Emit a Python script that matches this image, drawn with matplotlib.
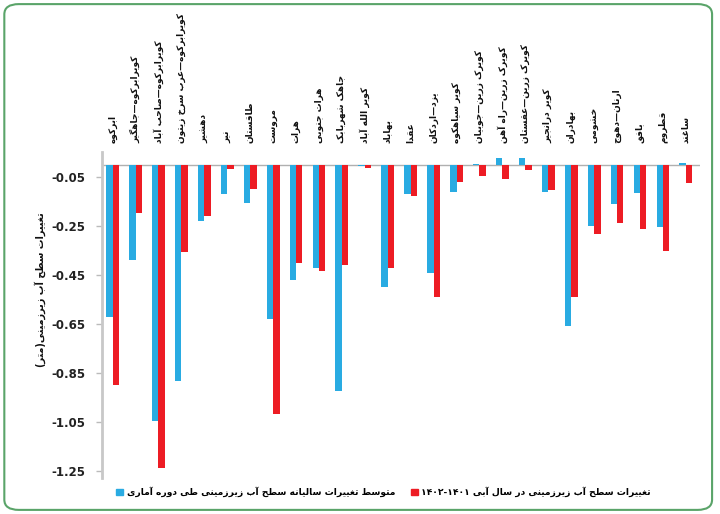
import matplotlib
matplotlib.use("Agg")
import matplotlib.pyplot as plt
from matplotlib.patches import Patch, FancyBboxPatch
from matplotlib.transforms import blended_transform_factory

# presentation forms: isolated, final, initial, medial
FORMS = {
    'ا': ('\uFE8D', '\uFE8E', None, None), 'آ': ('\uFE81', '\uFE82', None, None),
    'ب': ('\uFE8F', '\uFE90', '\uFE91', '\uFE92'), 'پ': ('\uFB56', '\uFB57', '\uFB58', '\uFB59'),
    'ت': ('\uFE95', '\uFE96', '\uFE97', '\uFE98'), 'ث': ('\uFE99', '\uFE9A', '\uFE9B', '\uFE9C'),
    'ج': ('\uFE9D', '\uFE9E', '\uFE9F', '\uFEA0'), 'چ': ('\uFB7A', '\uFB7B', '\uFB7C', '\uFB7D'),
    'ح': ('\uFEA1', '\uFEA2', '\uFEA3', '\uFEA4'), 'خ': ('\uFEA5', '\uFEA6', '\uFEA7', '\uFEA8'),
    'د': ('\uFEA9', '\uFEAA', None, None), 'ذ': ('\uFEAB', '\uFEAC', None, None),
    'ر': ('\uFEAD', '\uFEAE', None, None), 'ز': ('\uFEAF', '\uFEB0', None, None),
    'ژ': ('\uFB8A', '\uFB8B', None, None),
    'س': ('\uFEB1', '\uFEB2', '\uFEB3', '\uFEB4'), 'ش': ('\uFEB5', '\uFEB6', '\uFEB7', '\uFEB8'),
    'ص': ('\uFEB9', '\uFEBA', '\uFEBB', '\uFEBC'), 'ض': ('\uFEBD', '\uFEBE', '\uFEBF', '\uFEC0'),
    'ط': ('\uFEC1', '\uFEC2', '\uFEC3', '\uFEC4'), 'ظ': ('\uFEC5', '\uFEC6', '\uFEC7', '\uFEC8'),
    'ع': ('\uFEC9', '\uFECA', '\uFECB', '\uFECC'), 'غ': ('\uFECD', '\uFECE', '\uFECF', '\uFED0'),
    'ف': ('\uFED1', '\uFED2', '\uFED3', '\uFED4'), 'ق': ('\uFED5', '\uFED6', '\uFED7', '\uFED8'),
    'ک': ('\uFB8E', '\uFB8F', '\uFB90', '\uFB91'), 'گ': ('\uFB92', '\uFB93', '\uFB94', '\uFB95'),
    'ل': ('\uFEDD', '\uFEDE', '\uFEDF', '\uFEE0'), 'م': ('\uFEE1', '\uFEE2', '\uFEE3', '\uFEE4'),
    'ن': ('\uFEE5', '\uFEE6', '\uFEE7', '\uFEE8'), 'ه': ('\uFEE9', '\uFEEA', '\uFEEB', '\uFEEC'),
    'و': ('\uFEED', '\uFEEE', None, None), 'ی': ('\uFBFC', '\uFBFD', '\uFBFE', '\uFBFF'),
}

def fa(s):
    # shape the letters, then reverse for left-to-right drawing
    out = []
    for i, c in enumerate(s):
        if c not in FORMS:
            out.append(c)
            continue
        f = FORMS[c]
        prev = s[i-1] if i > 0 else ''
        nxt = s[i+1] if i + 1 < len(s) else ''
        jp = prev in FORMS and FORMS[prev][2] is not None
        jn = nxt in FORMS and f[2] is not None
        if jp and jn:
            out.append(f[3])
        elif jp:
            out.append(f[1])
        elif jn:
            out.append(f[2])
        else:
            out.append(f[0])
    return ''.join(out)[::-1]

names = ["ابرکوه", "کویرابرکوه—جاهگیر", "کویرابرکوه—صاحب آباد", "کویرابرکوه—عرب سرخ زیتون",
         "دهشیر", "نیر", "طاقستان", "مروست", "هرات", "هرات جنوبی", "جاهک شهربابک",
         "کویر الله آباد", "بهاباد", "عقدا", "یزد—اردکان", "کویر سیاهکوه",
         "کویرک زرین—جوبیان", "کویرک زرین—راه آهن", "کویرک زرین—عقستان", "کویر درانجیر",
         "بهادران", "خشومی", "ارنان—دهوج", "بافق", "قطروم", "ساغند"]
avg_change = [-0.62, -0.39, -1.045, -0.885, -0.23, -0.12, -0.155, -0.63, -0.47, -0.42,
              -0.925, -0.005, -0.50, -0.12, -0.44, -0.11, 0.004, 0.028, 0.028, -0.11,
              -0.66, -0.25, -0.16, -0.115, -0.255, 0.01]
year_change = [-0.90, -0.195, -1.237, -0.357, -0.207, -0.016, -0.098, -1.02, -0.40, -0.435,
               -0.41, -0.011, -0.42, -0.125, -0.54, -0.068, -0.043, -0.058, -0.02, -0.10,
               -0.54, -0.28, -0.235, -0.26, -0.35, -0.075]
yticks = [-0.05, -0.25, -0.45, -0.65, -0.85, -1.05, -1.25]

blue = '#29abe2'
red = '#ed1c24'
x = list(range(len(names)))
w = 0.28

fig = plt.figure(figsize=(7.2, 5.14), dpi=100)
ax = fig.add_axes([0.1417, 0.070, 0.830, 0.634])
ax.bar([i - w/2 for i in x], avg_change, w, color=blue)
ax.bar([i + w/2 for i in x], year_change, w, color=red)
ax.axhline(0, color='#b0b0b0', lw=1, zorder=0)

ax.set_xlim(-0.46, 25.6)
ax.set_ylim(-1.28, 0.053)
ax.set_xticks([])
ax.set_yticks(yticks)
ax.set_yticklabels(['%.2f' % v for v in yticks], fontsize=8.5, fontweight='bold', color='#222222')
ax.tick_params(axis='y', length=4, width=1, color='#bbbbbb', pad=8)
for s in ['top', 'right', 'bottom']:
    ax.spines[s].set_visible(False)
ax.spines['left'].set_color('#c8c8c8')
ax.spines['left'].set_linewidth(2)

tr = blended_transform_factory(ax.transData, ax.transAxes)
for i, n in enumerate(names):
    ax.text(i, 1.028, fa(n), rotation=90, ha='center', va='bottom', transform=tr,
            fontsize=6.5, fontweight='bold', color='#111111')

ylab = "(" + fa("متر") + ")" + fa("تغییرات سطح آب زیرزمینی")
fig.text(40/720, 1 - 290/514, ylab, rotation=90, ha='center', va='center',
         fontsize=7, fontweight='bold', color='#111111')

handles = [Patch(color=blue, label=fa("متوسط تغییرات سالیانه سطح آب زیرزمینی طی دوره آماری")),
           Patch(color=red, label="۱۴۰۲-۱۴۰۱ " + fa("تغییرات سطح آب زیرزمینی در سال آبی"))]
fig.legend(handles=handles, loc='center', bbox_to_anchor=(0.533, 1 - 492/514), ncol=2,
           frameon=False, handlelength=0.7, handleheight=0.7, handletextpad=0.4,
           columnspacing=1.8, prop={'size': 6.6, 'weight': 'bold'})

fig.patches.append(FancyBboxPatch((0.006, 0.008), 0.983, 0.984, boxstyle='round,pad=0,rounding_size=0.02',
                                  transform=fig.transFigure, fill=False, ec='#5aa469', lw=1.5))

fig.savefig('out.png', dpi=100)
